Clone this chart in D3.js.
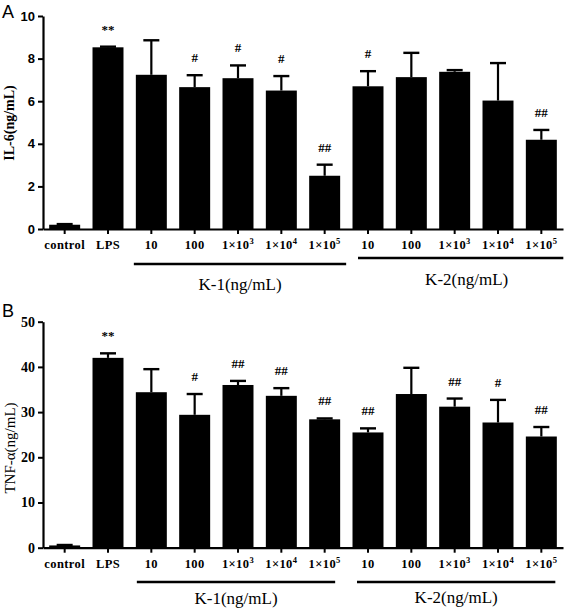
<!DOCTYPE html>
<html><head><meta charset="utf-8">
<script src="https://cdn.jsdelivr.net/npm/d3@7"></script>
<style>body{margin:0;background:#fff}svg{display:block}</style>
</head><body>
<script>
const categories = ["control","LPS","K1-10","K1-100","K1-1e3","K1-1e4","K1-1e5","K2-10","K2-100","K2-1e3","K2-1e4","K2-1e5"];
const tickLabels = [["control"],["LPS"],["10"],["100"],["1×10","3"],["1×10","4"],["1×10","5"],["10"],["100"],["1×10","3"],["1×10","4"],["1×10","5"]];
const il6Values = [0.2, 8.53, 7.24, 6.66, 7.08, 6.5, 2.5, 6.7, 7.13, 7.38, 6.03, 4.19];
const il6Errors = [0.03, 0.03, 1.62, 0.56, 0.6, 0.68, 0.52, 0.71, 1.14, 0.08, 1.76, 0.46];
const il6Marks = ["", "**", "", "#", "#", "#", "##", "#", "", "", "", "##"];
const tnfValues = [0.5, 42.0, 34.4, 29.4, 36.0, 33.6, 28.4, 25.5, 34.0, 31.2, 27.7, 24.6];
const tnfErrors = [0.1, 1.0, 5.1, 4.6, 0.9, 1.7, 0.2, 0.9, 5.8, 1.8, 5.0, 2.1];
const tnfMarks = ["", "**", "", "#", "##", "##", "##", "##", "", "##", "#", "##"];
const il6Ticks = [0, 2, 4, 6, 8, 10];
const tnfTicks = [0, 10, 20, 30, 40, 50];
const groups = [{name:"K-1(ng/mL)", from:"K1-10", to:"K1-1e5"}, {name:"K-2(ng/mL)", from:"K2-10", to:"K2-1e5"}];

const W = 567, H = 609;
const svg = d3.select("body").append("svg").attr("width", W).attr("height", H);
const serif = "'Liberation Serif','Times New Roman',serif";
const sans = "'Liberation Sans',Arial,sans-serif";

function panel(opt) {
  const g = svg.append("g");
  const x = d3.scaleBand().domain(categories).range([43, 563]).paddingInner(0.285).paddingOuter(0.1425);
  const y = d3.scaleLinear().domain(opt.domain).range([opt.y0, opt.y1]);
  const bw = x.bandwidth();
  g.selectAll("rect.bar").data(categories).enter().append("rect")
    .attr("x", d => x(d)).attr("width", bw)
    .attr("y", (d,i) => y(opt.values[i])).attr("height", (d,i) => y(0) - y(opt.values[i]))
    .attr("fill", "#000");
  categories.forEach((c,i) => {
    const cx = x(c) + bw/2, top = y(opt.values[i]), cap = y(opt.values[i] + opt.errors[i]);
    g.append("line").attr("x1", cx).attr("x2", cx).attr("y1", top).attr("y2", cap).attr("stroke","#000").attr("stroke-width",2.2);
    g.append("line").attr("x1", cx-8).attr("x2", cx+8).attr("y1", cap).attr("y2", cap).attr("stroke","#000").attr("stroke-width",2.4);
    if (opt.marks[i]) {
      g.append("text").attr("x", cx).attr("y", cap - 13).attr("text-anchor","middle")
        .attr("font-family", serif).attr("font-weight","bold").attr("font-size", 13).text(opt.marks[i]);
    }
  });
  const ya = d3.axisLeft(y).tickValues(opt.ticks).tickSize(5).tickSizeOuter(0).tickPadding(3);
  const yg = g.append("g").attr("transform", "translate(43,0)").call(ya);
  yg.select(".domain").attr("stroke-width", 2.2);
  yg.selectAll(".tick line").attr("stroke-width", 2);
  yg.selectAll(".tick text").attr("font-family", opt.tickFont).attr("font-weight","bold").attr("font-size", opt.tickSize).attr("fill","#000");
  const xa = d3.axisBottom(x).tickSize(5).tickSizeOuter(0).tickFormat(() => "");
  const xg = g.append("g").attr("transform", `translate(0,${y(0)})`).call(xa);
  xg.select(".domain").attr("stroke-width", 2.2);
  xg.selectAll(".tick line").attr("stroke-width", 2);
  categories.forEach((c,i) => {
    const t = g.append("text").attr("x", x(c) + bw/2).attr("y", y(0) + 20).attr("text-anchor","middle")
      .attr("font-family", serif).attr("font-weight","bold").attr("font-size", 12.5).attr("letter-spacing", 0.4);
    t.append("tspan").text(tickLabels[i][0]);
    if (tickLabels[i][1]) t.append("tspan").attr("dy", -5).attr("font-size", 8.5).text(tickLabels[i][1]);
  });
  groups.forEach((gr, k) => {
    const x1 = x(gr.from) + opt.lineOff[k][0], x2 = x(gr.to) + bw + opt.lineOff[k][1];
    g.append("line").attr("x1", x1).attr("x2", x2).attr("y1", opt.lineY[k]).attr("y2", opt.lineY[k]).attr("stroke","#000").attr("stroke-width",2.6);
    g.append("text").attr("x", (x1+x2)/2 + opt.labelOff[k]).attr("y", opt.labelY[k]).attr("text-anchor","middle")
      .attr("font-family", serif).attr("font-size", 17).text(gr.name);
  });
  g.append("text").attr("transform", `translate(${opt.ylabX},${opt.ylabY}) rotate(-90)`).attr("text-anchor","middle")
    .attr("font-family", serif).attr("font-weight", opt.ylabWeight).attr("font-size", opt.ylabSize).text(opt.ylabel);
  g.append("text").attr("x", 2).attr("y", opt.letterY).attr("font-family", sans).attr("font-size", 18).text(opt.letter);
}

panel({domain:[0,10], y0:229, y1:16, values:il6Values, errors:il6Errors, marks:il6Marks, ticks:il6Ticks,
  tickFont: sans, tickSize: 13, lineY:[264,258], lineOff:[[-2,6],[5.5,6.5]], labelY:[290,285], labelOff:[0,6],
  ylabel:"IL-6(ng/mL)", ylabX:14, ylabY:123, ylabWeight:"bold", ylabSize:14, letter:"A", letterY:18});
panel({domain:[0,50], y0:547.7, y1:321.7, values:tnfValues, errors:tnfErrors, marks:tnfMarks, ticks:tnfTicks,
  tickFont: serif, tickSize: 14, lineY:[582,582], lineOff:[[1,-5],[4.5,-1.5]], labelY:[604,603], labelOff:[0,0],
  ylabel:"TNF-α(ng/mL)", ylabX:15, ylabY:448, ylabWeight:"normal", ylabSize:15, letter:"B", letterY:317});
</script>
</body></html>
